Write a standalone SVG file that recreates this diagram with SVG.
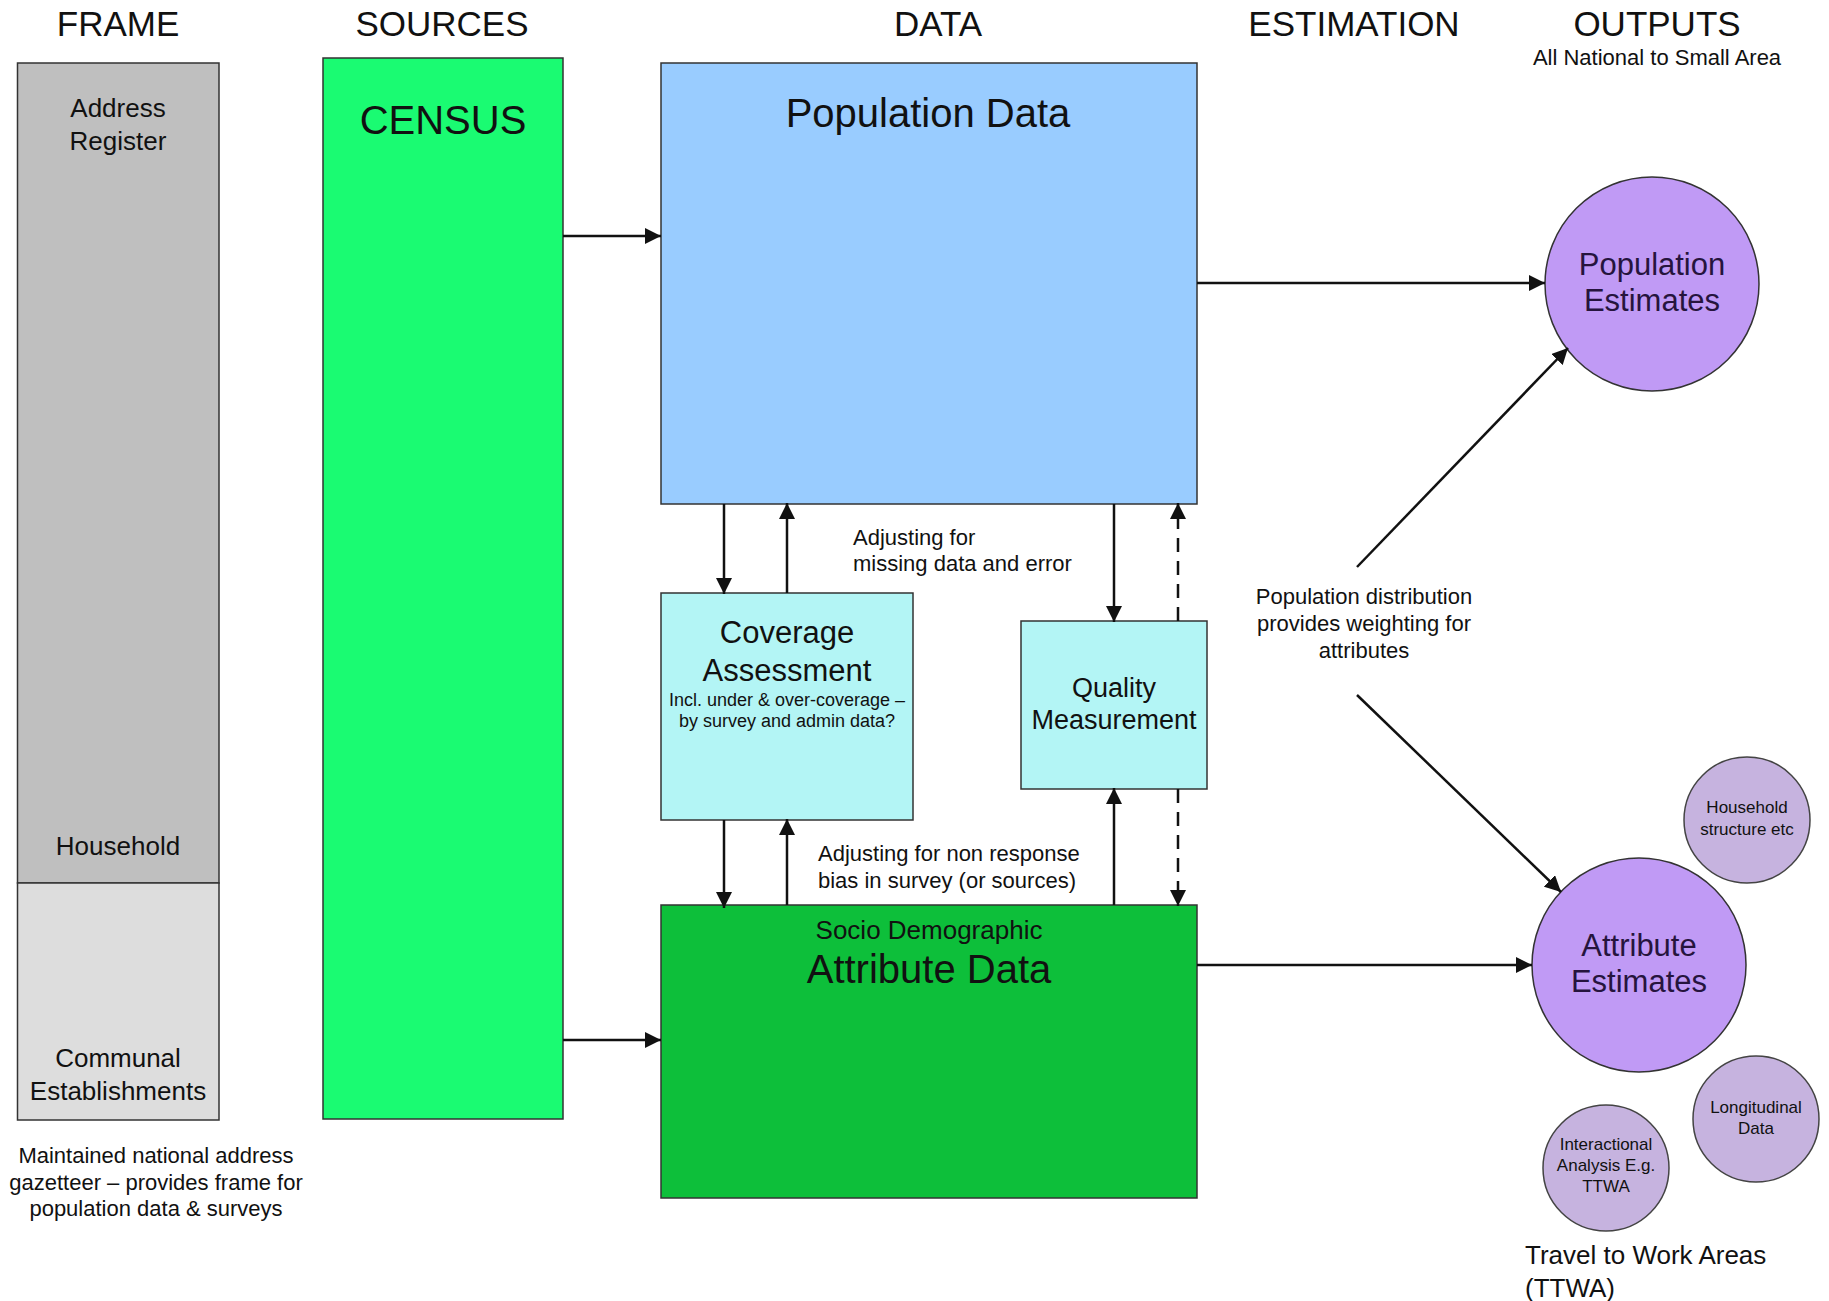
<svg xmlns="http://www.w3.org/2000/svg" width="1829" height="1301" viewBox="0 0 1829 1301">
<defs>
<style>
text{font-family:"Liberation Sans",Arial,sans-serif;fill:#111;}
.title{font-size:35px;text-anchor:middle;}
.mid{text-anchor:middle;}
.ptxt{fill:#26143d;}
.box{stroke:#333;stroke-width:1.5;}
.conn{stroke:#111;stroke-width:2.5;fill:none;}
.dash{stroke-dasharray:14 9;}
</style>
<marker id="ah" viewBox="0 0 12 12" refX="12" refY="6" markerWidth="16" markerHeight="16" markerUnits="userSpaceOnUse" orient="auto">
<path d="M0,0 L12,6 L0,12 Z" fill="#111"/>
</marker>
</defs>
<rect width="1829" height="1301" fill="#fff"/>

<g id="headers">
<text class="title" x="118" y="36">FRAME</text>
<text class="title" x="442" y="36">SOURCES</text>
<text class="title" x="938" y="36">DATA</text>
<text class="title" x="1354" y="36">ESTIMATION</text>
<text class="title" x="1657" y="36">OUTPUTS</text>
<text class="mid" x="1657" y="65" font-size="22">All National to Small Area</text>
</g>

<g id="frame">
<rect class="box" x="17.5" y="63" width="201.5" height="820" fill="#BFBFBF"/>
<rect class="box" x="17.5" y="883" width="201.5" height="237" fill="#DDDDDD"/>
<text class="mid" x="118" y="117" font-size="26">Address</text>
<text class="mid" x="118" y="150" font-size="26">Register</text>
<text class="mid" x="118" y="855" font-size="26">Household</text>
<text class="mid" x="118" y="1067" font-size="26">Communal</text>
<text class="mid" x="118" y="1100" font-size="26">Establishments</text>
<text class="mid" x="156" y="1163" font-size="22">Maintained national address</text>
<text class="mid" x="156" y="1190" font-size="22">gazetteer – provides frame for</text>
<text class="mid" x="156" y="1216" font-size="22">population data &amp; surveys</text>
</g>

<g id="census">
<rect class="box" x="323" y="58" width="240" height="1061" fill="#1AFB72"/>
<text class="mid" x="443" y="134" font-size="40">CENSUS</text>
</g>

<g id="population-data">
<rect class="box" x="661" y="63" width="536" height="441" fill="#99CCFF"/>
<text class="mid" x="928" y="127" font-size="40">Population Data</text>
</g>

<g id="coverage">
<rect class="box" x="661" y="593" width="252" height="227" fill="#B3F5F5"/>
<text class="mid" x="787" y="643" font-size="31">Coverage</text>
<text class="mid" x="787" y="681" font-size="31">Assessment</text>
<text class="mid" x="787" y="706" font-size="18">Incl. under &amp; over-coverage –</text>
<text class="mid" x="787" y="727" font-size="18">by survey and admin data?</text>
</g>

<g id="quality">
<rect class="box" x="1021" y="621" width="186" height="168" fill="#B3F5F5"/>
<text class="mid" x="1114" y="697" font-size="27">Quality</text>
<text class="mid" x="1114" y="729" font-size="27">Measurement</text>
</g>

<g id="attribute-data">
<rect class="box" x="661" y="905" width="536" height="293" fill="#0DBF3A"/>
<text class="mid" x="929" y="939" font-size="26">Socio Demographic</text>
<text class="mid" x="929" y="983" font-size="40">Attribute Data</text>
</g>

<g id="population-estimates">
<circle cx="1652" cy="284" r="107" fill="#C09AF5" stroke="#333" stroke-width="1.5"/>
<text class="mid ptxt" x="1652" y="275" font-size="31">Population</text>
<text class="mid ptxt" x="1652" y="311" font-size="31">Estimates</text>
</g>

<g id="attribute-estimates">
<circle cx="1639" cy="965" r="107" fill="#C09AF5" stroke="#333" stroke-width="1.5"/>
<text class="mid ptxt" x="1639" y="956" font-size="31">Attribute</text>
<text class="mid ptxt" x="1639" y="992" font-size="31">Estimates</text>
</g>

<g id="household-structure">
<circle cx="1747" cy="820" r="63" fill="#C6B3DF" stroke="#444" stroke-width="1.5"/>
<text class="mid" x="1747" y="813" font-size="17">Household</text>
<text class="mid" x="1747" y="835" font-size="17">structure etc</text>
</g>

<g id="longitudinal">
<circle cx="1756" cy="1119" r="63" fill="#C6B3DF" stroke="#444" stroke-width="1.5"/>
<text class="mid" x="1756" y="1113" font-size="17">Longitudinal</text>
<text class="mid" x="1756" y="1134" font-size="17">Data</text>
</g>

<g id="interactional">
<circle cx="1606" cy="1168" r="63" fill="#C6B3DF" stroke="#444" stroke-width="1.5"/>
<text class="mid" x="1606" y="1150" font-size="17">Interactional</text>
<text class="mid" x="1606" y="1171" font-size="17">Analysis E.g.</text>
<text class="mid" x="1606" y="1192" font-size="17">TTWA</text>
</g>

<g id="labels">
<text x="853" y="545" font-size="22">Adjusting for</text>
<text x="853" y="571" font-size="22">missing data and error</text>
<text x="818" y="861" font-size="22">Adjusting for non response</text>
<text x="818" y="888" font-size="22">bias in survey (or sources)</text>
<text class="mid" x="1364" y="604" font-size="22">Population distribution</text>
<text class="mid" x="1364" y="631" font-size="22">provides weighting for</text>
<text class="mid" x="1364" y="658" font-size="22">attributes</text>
<text x="1525" y="1264" font-size="26">Travel to Work Areas</text>
<text x="1525" y="1297" font-size="26">(TTWA)</text>
</g>

<g id="connectors">
<line class="conn" x1="563" y1="236" x2="661" y2="236" marker-end="url(#ah)"/>
<line class="conn" x1="563" y1="1040" x2="661" y2="1040" marker-end="url(#ah)"/>
<line class="conn" x1="1197" y1="283" x2="1545" y2="283" marker-end="url(#ah)"/>
<line class="conn" x1="1197" y1="965" x2="1532" y2="965" marker-end="url(#ah)"/>
<line class="conn" x1="724" y1="504" x2="724" y2="594" marker-end="url(#ah)"/>
<line class="conn" x1="787" y1="593" x2="787" y2="503" marker-end="url(#ah)"/>
<line class="conn" x1="724" y1="820" x2="724" y2="908" marker-end="url(#ah)"/>
<line class="conn" x1="787" y1="905" x2="787" y2="819" marker-end="url(#ah)"/>
<line class="conn" x1="1114" y1="504" x2="1114" y2="622" marker-end="url(#ah)"/>
<line class="conn dash" x1="1178" y1="621" x2="1178" y2="503" marker-end="url(#ah)"/>
<line class="conn" x1="1114" y1="905" x2="1114" y2="788" marker-end="url(#ah)"/>
<line class="conn dash" x1="1178" y1="789" x2="1178" y2="906" marker-end="url(#ah)"/>
<line class="conn" x1="1357" y1="567" x2="1568" y2="348" marker-end="url(#ah)"/>
<line class="conn" x1="1357" y1="695" x2="1561" y2="892" marker-end="url(#ah)"/>
</g>
</svg>
